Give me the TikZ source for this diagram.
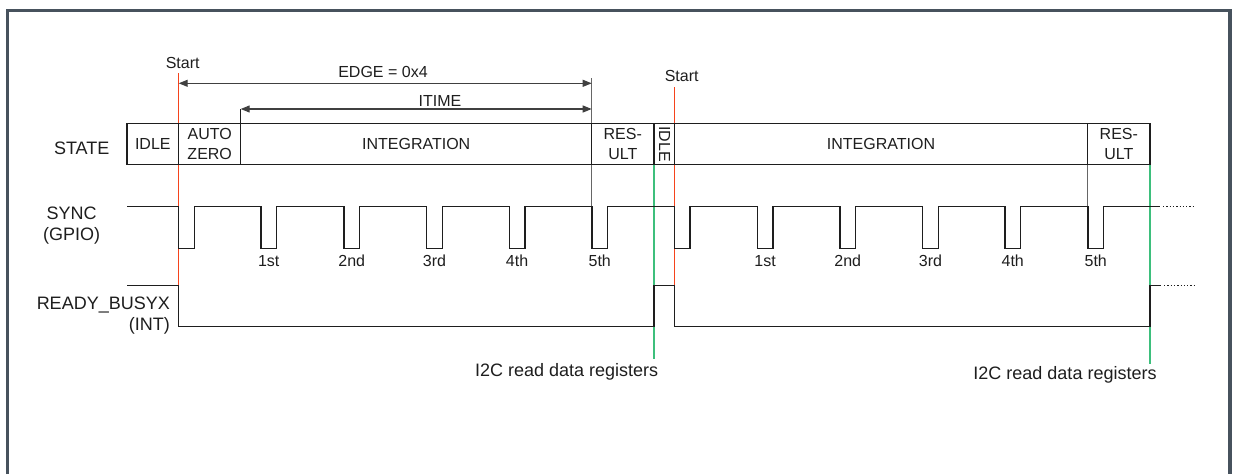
\documentclass[tikz,border=0pt]{standalone}
\usepackage{fontspec}
\setmainfont{Liberation Sans}
\usetikzlibrary{arrows.meta}
\definecolor{framec}{HTML}{47525D}
\definecolor{startc}{HTML}{F5431C}
\definecolor{readc}{HTML}{3DBF7C}
\definecolor{ink}{HTML}{1E1E1E}
\definecolor{gridc}{HTML}{666666}
\begin{document}
\begin{tikzpicture}[x=1pt,y=-1pt,
  sig/.style={draw=ink,line width=1.4pt},
  boxline/.style={draw=ink,line width=1.5pt},
  small/.style={font=\fontsize{16}{19.5}\selectfont,text=ink,inner sep=0pt,align=center},
  big/.style={font=\fontsize{18}{21}\selectfont,text=ink,inner sep=0pt,align=center},
  dim/.style={draw=ink!85,line width=1.1pt,{Triangle[length=9pt,width=7pt]}-{Triangle[length=9pt,width=7pt]}},
  startline/.style={draw=startc,line width=1.2pt},
  readline/.style={draw=readc,line width=1.6pt},
  dots/.style={draw=ink,line width=1.3pt,dotted}]
\useasboundingbox (0,0) rectangle (1237,474);
\fill[white] (0,0) rectangle (1237,474);
% frame
\draw[framec,line width=3.4pt] (7.5,474) -- (7.5,10.5) -- (1230,10.5) -- (1230,474);

% coordinates
\coordinate (s1) at (178.7,73);
\coordinate (s1b) at (178.7,285.7);
\coordinate (s2) at (674.3,87);
\coordinate (s2b) at (674.3,285.7);
\coordinate (g1) at (654,164.7);
\coordinate (g1b) at (654,358.5);
\coordinate (g2) at (1150,164.7);
\coordinate (g2b) at (1150,363.5);

% green and red markers
\draw[readline] (g1) -- (g1b);
\draw[readline] (g2) -- (g2b);
\draw[startline] (s1) -- (s1b);
\draw[startline] (s2) -- (s2b);

% grey reference lines
\draw[gridc,line width=1.3pt] (591.7,78) -- (591.7,248.3);
\draw[gridc,line width=1.3pt] (1087.7,164.7) -- (1087.7,206.3);
\draw[ink,line width=1.2pt] (240.7,109) -- (240.7,123.7);

% dimension arrows
\coordinate (e1) at (178.7,83.3);
\coordinate (e2) at (591.7,83.3);
\coordinate (i1) at (240.7,109);
\coordinate (i2) at (591.7,109);
\draw[dim] (e1) -- (e2);
\draw[dim] (i1) -- (i2);
\node[small] (edge) at (383,71.5) {EDGE = 0x4};
\node[small] (itime) at (440,100.5) {ITIME};
\node[small] (start1) at (182.7,62.5) {Start};
\node[small] (start2) at (681.7,76) {Start};

% STATE row
\draw[boxline,fill=none] (127,123.7) rectangle (1150,164.7);
\foreach \xx in {178.7,240.7,591.7,654,674.3,1087.7}
  \draw[boxline] (\xx,123.7) -- (\xx,164.7);
\node[big] (lstate) at (81.7,148) {STATE};
\node[small] (idle1) at (152.8,144.2) {IDLE};
\node[small] (az) at (209.7,144.2) {AUTO\\ZERO};
\node[small] (int1) at (416.2,144.2) {INTEGRATION};
\node[small] (res1) at (622.8,144.2) {RES-\\ULT};
\node[small,rotate=-90] (idle2) at (664.5,144.2) {IDLE};
\node[small] (int2) at (881,144.2) {INTEGRATION};
\node[small] (res2) at (1118.8,144.2) {RES-\\ULT};

% SYNC
\node[big] (lsync) at (71.7,225.5) {SYNC\\(GPIO)};
\draw[sig] (127,206.3)
  foreach \a in {178.7,261,344,426.7,509.3,592,674.3,757.3,840,922.7,1005,1088} {
    -- (\a,206.3) -- (\a,248.3) -- (\a+15.5,248.3) -- (\a+15.5,206.3) }
  -- (1160,206.3);
\draw[dots] (1163,206.3) -- (1195,206.3);
\foreach \a/\t in {261/1st,344/2nd,426.7/3rd,509.3/4th,592/5th,757.3/1st,840/2nd,922.7/3rd,1005/4th,1088/5th}
  \node[small] at (\a+7.75,261) {\t};

% READY_BUSYX
\node[big,align=right,anchor=east] (lrdy) at (170,304.5) {READY\_BUSYX};
\node[big,align=right,anchor=east] (lint) at (170,326) {(INT)};
\draw[sig] (127,285.7) -- (178.7,285.7) -- (178.7,326.7) -- (654,326.7) -- (654,285.7)
  -- (674.3,285.7) -- (674.3,326.7) -- (1150,326.7) -- (1150,285.7) -- (1161,285.7);
\draw[dots] (1164,285.7) -- (1195,285.7);

% I2C labels
\node[big] (i2c1) at (566.7,372) {I2C read data registers};
\node[big] (i2c2) at (1065,374.5) {I2C read data registers};
\end{tikzpicture}
\end{document}
